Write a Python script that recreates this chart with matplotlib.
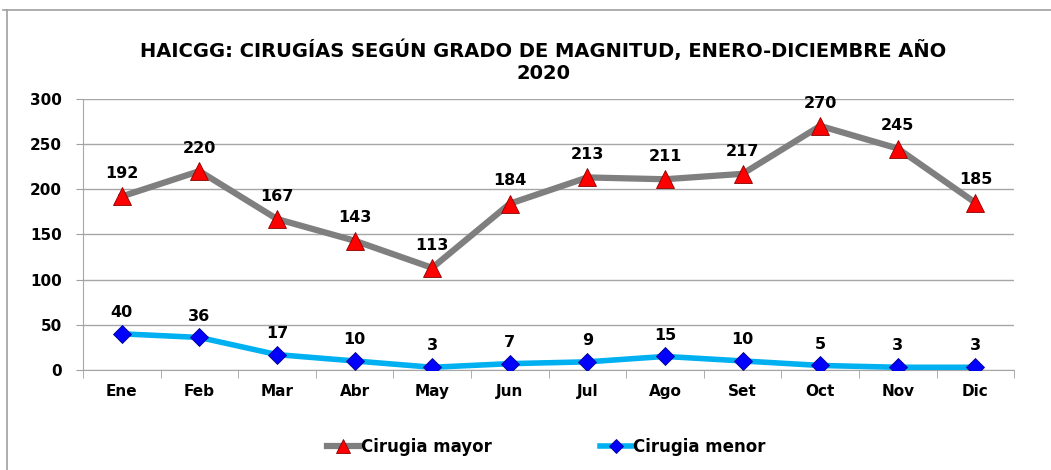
import matplotlib.pyplot as plt
from matplotlib.lines import Line2D
import numpy

meses = ['Ene', 'Feb', 'Mar', 'Abr', 'May', 'Jun', 'Jul', 'Ago', 'Set', 'Oct', 'Nov', 'Dic']
mayor = [192, 220, 167, 143, 113, 184, 213, 211, 217, 270, 245, 185]
menor = [40, 36, 17, 10, 3, 7, 9, 15, 10, 5, 3, 3]

fig = plt.figure(figsize=(10.51, 4.70), dpi=100)
ax = fig.add_axes([0.079, 0.2128, 0.886, 0.577])

x = numpy.arange(len(meses))
ax.plot(x, mayor, color='#7f7f7f', linewidth=4.5, marker='^', markersize=13,
        markerfacecolor='#ff0000', markeredgecolor='#8b0000', markeredgewidth=0.6,
        label='Cirugia mayor', zorder=3)
ax.plot(x, menor, color='#00b0f0', linewidth=4, marker='D', markersize=9.5,
        markerfacecolor='#0000ff', markeredgecolor='#00008b', markeredgewidth=0.6,
        label='Cirugia menor', zorder=3)

for i in range(len(meses)):
    ax.annotate(str(mayor[i]), (x[i], mayor[i]), xytext=(0, 11), textcoords='offset points',
                ha='center', va='bottom', fontsize=11.5, fontweight='bold')
    ax.annotate(str(menor[i]), (x[i], menor[i]), xytext=(0, 10), textcoords='offset points',
                ha='center', va='bottom', fontsize=11.5, fontweight='bold')

ax.set_xlim(-0.5, len(meses) - 0.5)
ax.set_ylim(0, 300)
ax.set_yticks(range(0, 301, 50))
ax.set_xticks(x)
ax.set_xticklabels(meses)
ax.set_xticks(numpy.arange(-0.5, len(meses), 1), minor=True)
ax.tick_params(axis='x', which='major', length=0, pad=10)
ax.tick_params(axis='x', which='minor', length=6, color='#a0a0a0', direction='out')
ax.tick_params(axis='y', length=5, color='#a0a0a0', pad=10)
for lab in ax.get_xticklabels() + ax.get_yticklabels():
    lab.set_fontweight('bold')
    lab.set_fontsize(11)
ax.grid(axis='y', color='#a6a6a6', linewidth=1)
ax.set_axisbelow(True)
for s in ['top', 'right']:
    ax.spines[s].set_visible(False)
ax.spines['left'].set_color('#a6a6a6')
ax.spines['bottom'].set_color('#a6a6a6')

fig.text(0.517, 0.869, 'HAICGG: CIRUGÍAS SEGÚN GRADO DE MAGNITUD, ENERO-DICIEMBRE AÑO\n2020',
         ha='center', va='center', fontsize=14, fontweight='bold', linespacing=1.2)

fig.legend(loc='center', bbox_to_anchor=(0.52, 0.049), ncol=2, frameon=False,
           columnspacing=6.5, handlelength=1.9, handletextpad=0.1, markerscale=0.75,
           prop={'weight': 'bold', 'size': 12})

# chart frame
fig.add_artist(Line2D([7 / 1051, 7 / 1051], [0, 1 - 10 / 470], color='#a0a0a0', linewidth=1.2))
fig.add_artist(Line2D([3 / 1051, 1], [1 - 10 / 470, 1 - 10 / 470], color='#a0a0a0', linewidth=1.2))

fig.savefig('out.png', dpi=100)
